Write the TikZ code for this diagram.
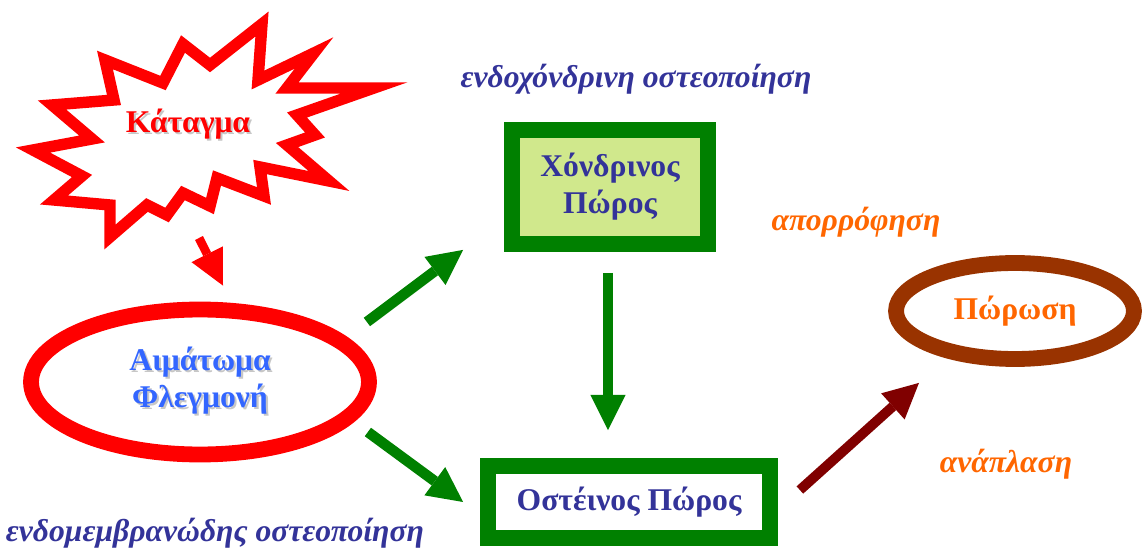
\documentclass[tikz,border=0pt]{standalone}
\usepackage{fontspec}
\setmainfont{Liberation Serif}
\usepackage{xcolor}
\usetikzlibrary{shapes.geometric,arrows.meta,calc}
\definecolor{burstred}{RGB}{255,0,0}
\definecolor{textblue}{RGB}{51,102,255}
\definecolor{navy}{RGB}{51,51,153}
\definecolor{boxgreen}{RGB}{0,128,0}
\definecolor{palegreen}{RGB}{208,232,140}
\definecolor{callusbrown}{RGB}{153,51,0}
\definecolor{darkred}{RGB}{128,0,0}
\definecolor{noteorange}{RGB}{255,102,0}
\newcommand{\shadowed}[1]{\makebox[0pt][l]{\hspace{1.2pt}\raisebox{-1.2pt}{\textcolor{black!22}{#1}}}#1}

\begin{document}
\begin{tikzpicture}[x=0.02cm, y=-0.02cm,
  labeltext/.style={font=\fontsize{18}{21}\selectfont\bfseries, align=center},
  notetext/.style={font=\fontsize{18}{21}\selectfont\bfseries\itshape},
  greenbox/.style={rectangle, draw=boxgreen, line width=9pt, inner sep=0pt},
  ring/.style={ellipse, line width=9pt, inner sep=0pt},
  fatarrow/.style={line width=#1, -{Triangle[length=20pt,width=20pt,line width=0pt]}}]

\useasboundingbox (0,0) rectangle (1142,550);

% Starburst
\draw[burstred, line width=6.5pt, line join=miter, fill=white]
(105,60) -- (163,83) -- (183,44) -- (210,65) -- (262,24) -- (258,80) --
(314,53) -- (287,88) -- (374,88) -- (297,115) -- (315,135) -- (287,145) --
(329,181) -- (260,167) -- (264,196) -- (217,178) -- (210,206) -- (183,193) --
(167,215) -- (147,205) -- (110,237) -- (110,205) -- (54,200) -- (82,176) --
(33,150) -- (92,139) -- (52,105) -- (114,100) -- cycle;

% Nodes
\node[labeltext, text=burstred] (katagma) at (188,125) {\shadowed{Κάταγμα}};
\node[ring, draw=burstred, minimum width=6.76cm, minimum height=2.9cm,
      labeltext, text=textblue] (aimatoma) at (200,382)
      {\shadowed{Αιμάτωμα}\\\shadowed{Φλεγμονή}};
\node[greenbox, fill=palegreen, minimum width=3.92cm, minimum height=2.28cm,
      labeltext, text=navy] (chondro) at (610,187) {Χόνδρινος\\Πώρος};
\node[greenbox, fill=white, minimum width=5.64cm, minimum height=1.44cm,
      labeltext, text=navy] (osteino) at (629,502) {Οστέινος Πώρος};
\node[ring, draw=callusbrown, minimum width=4.76cm, minimum height=1.92cm,
      labeltext, text=noteorange] (porosi) at (1015,311) {Πώρωση};

% Labels
\node[notetext, text=navy] (endochondral) at (636,79) {ενδοχόνδρινη οστεοποίηση};
\node[notetext, text=navy] (endomembranous) at (215,533) {ενδομεμβρανώδης οστεοποίηση};
\node[notetext, text=noteorange] (resorption) at (856,222) {απορρόφηση};
\node[notetext, text=noteorange] (remodelling) at (1006,464) {ανάπλαση};

% Arrows
\draw[fatarrow=5pt, burstred] ($(katagma)+(11,113)$) -- ($(aimatoma.north)+(23,-16)$);
\draw[fatarrow=6pt, boxgreen] ($(aimatoma.east)+(-10,-60)$) -- ($(chondro.south west)+(-41,-2)$);
\draw[fatarrow=6pt, boxgreen] ($(aimatoma.east)+(-9,50)$) -- ($(osteino.west)+(-17,0)$);
\draw[fatarrow=6pt, boxgreen] ($(chondro.south)+(-2,21)$) -- ($(osteino.north)+(-21,-28)$);
\draw[fatarrow=5.6pt, darkred] ($(osteino.east)+(22,-12)$) -- ($(porosi.south)+(-96,16)$);

\end{tikzpicture}
\end{document}
